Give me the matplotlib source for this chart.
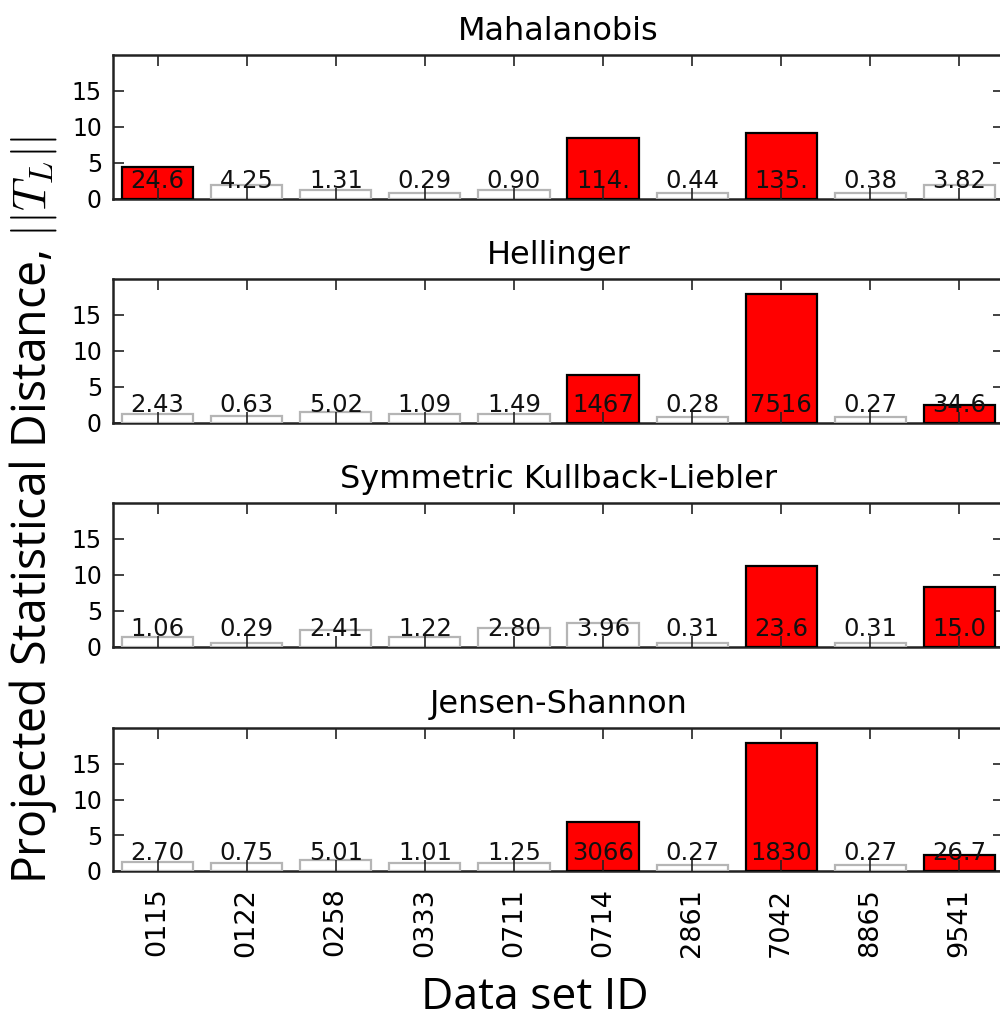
import matplotlib
matplotlib.use('Agg')
import matplotlib.pyplot as plt

plt.rcParams['mathtext.fontset'] = 'cm'

ids = ['0115', '0122', '0258', '0333', '0711', '0714', '2861', '7042', '8865', '9541']
titles = ['Mahalanobis', 'Hellinger', 'Symmetric Kullback-Liebler', 'Jensen-Shannon']

# bar heights (projected distance)
maha_h = [4.4, 2.0, 1.3, 0.9, 1.2, 8.5, 0.9, 9.1, 0.85, 1.9]
hell_h = [1.3, 1.0, 1.5, 1.2, 1.2, 6.6, 0.9, 17.9, 0.9, 2.5]
skl_h = [1.35, 0.6, 2.35, 1.4, 2.6, 3.3, 0.55, 11.3, 0.55, 8.3]
js_h = [1.3, 1.05, 1.6, 1.05, 1.05, 6.8, 0.85, 17.9, 0.85, 2.3]

# printed values over each bar
maha_lab = ['24.6', '4.25', '1.31', '0.29', '0.90', '114.', '0.44', '135.', '0.38', '3.82']
hell_lab = ['2.43', '0.63', '5.02', '1.09', '1.49', '1467', '0.28', '7516', '0.27', '34.6']
skl_lab = ['1.06', '0.29', '2.41', '1.22', '2.80', '3.96', '0.31', '23.6', '0.31', '15.0']
js_lab = ['2.70', '0.75', '5.01', '1.01', '1.25', '3066', '0.27', '1830', '0.27', '26.7']

# flagged (red) data sets
maha_red = [0, 5, 7]
hell_red = [5, 7, 9]
skl_red = [7, 9]
js_red = [5, 7, 9]

heights = [maha_h, hell_h, skl_h, js_h]
labels = [maha_lab, hell_lab, skl_lab, js_lab]
reds = [maha_red, hell_red, skl_red, js_red]

W, H = 1000, 1019
fig = plt.figure(figsize=(W / 100, H / 100), dpi=100)

# axes boxes in pixels (top, bottom)
boxes = [(55, 199), (279, 423), (503, 647), (728, 871)]
left, right = 113, 1004

x = list(range(len(ids)))
for i, (top, bot) in enumerate(boxes):
    ax = fig.add_axes([left / W, 1 - bot / H, (right - left) / W, (bot - top) / H])
    fcol = ['red' if j in reds[i] else 'white' for j in x]
    ecol = ['black' if j in reds[i] else '#b5b5b5' for j in x]
    ax.bar(x, heights[i], width=0.8, color=fcol, edgecolor=ecol, linewidth=1.6, zorder=3)
    for j in x:
        ax.text(j, 1.5, labels[i][j], ha='center', va='baseline', fontsize=17.5,
                color='#111111', zorder=5)
    ax.set_xlim(-0.5, 9.5)
    ax.set_ylim(0, 20)
    ax.set_yticks([0, 5, 10, 15])
    ax.set_xticks(x)
    ax.tick_params(direction='in', top=True, right=True, length=8, width=1.2,
                   labelsize=17, color='#222222')
    ax.tick_params(axis='y', pad=8)
    ax.tick_params(axis='x', pad=12, labelsize=19.5)
    ax.xaxis.set_zorder(4)
    for s in ax.spines.values():
        s.set_linewidth(1.8)
        s.set_color('#222222')
        s.set_zorder(2)
    if i < 3:
        ax.set_xticklabels([])
    else:
        ax.set_xticklabels(ids, rotation=90)
    ax.set_title(titles[i], fontsize=23, pad=11)

fig.text(33 / W, 1 - 884 / H, r'Projected Statistical Distance, $||T_L||$', rotation=90,
         ha='center', va='bottom', fontsize=33.5, family=['Open Sans', 'DejaVu Sans'])
fig.text(535 / W, 1 - 998 / H, 'Data set ID', ha='center', va='center', fontsize=32,
         family=['Open Sans', 'DejaVu Sans'])

fig.savefig('out.png', dpi=100)
